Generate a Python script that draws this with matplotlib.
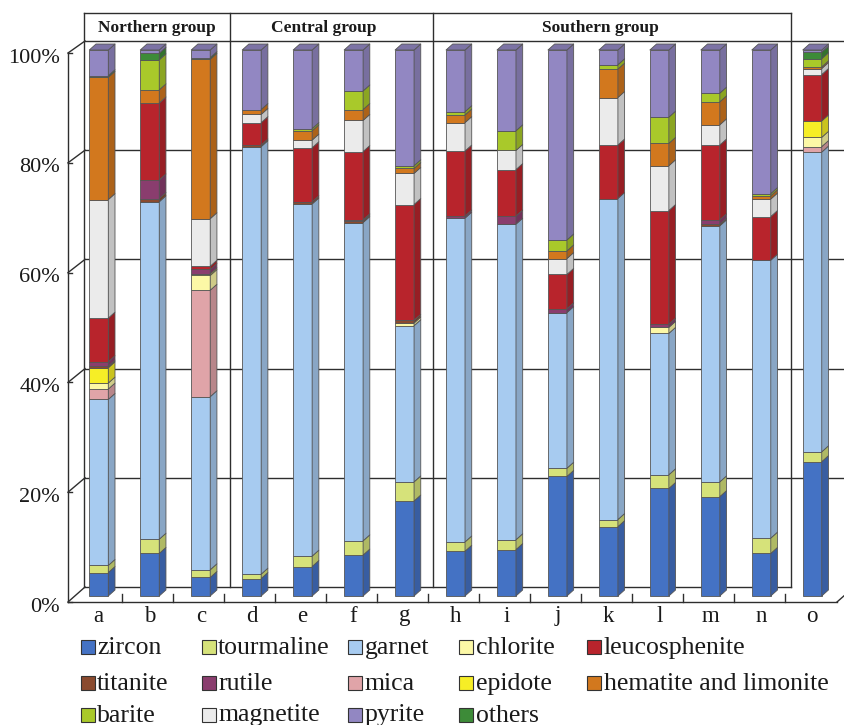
import numpy as np
import matplotlib
matplotlib.use('Agg')
import matplotlib.pyplot as plt
from matplotlib.collections import PolyCollection
from matplotlib.patches import Rectangle
from matplotlib.colors import to_rgb

plt.rcParams['font.family'] = ['Liberation Serif', 'DejaVu Serif']

# ---------------- data ----------------
categories = list('abcdefghijklmno')
groups = ['Northern group', 'Central group', 'Southern group']

zircon        = [4.3, 7.8, 3.4, 3.2, 5.4, 7.5, 17.4, 8.2, 8.5, 21.9, 12.7, 19.7, 18.2, 7.8, 24.6]
tourmaline    = [1.3, 2.6, 1.4, 0.8, 1.9, 2.6, 3.5, 1.7, 1.8, 1.5, 1.3, 2.5, 2.7, 2.8, 1.8]
garnet        = [30.4, 61.8, 31.7, 78.3, 64.5, 58.3, 28.6, 59.3, 57.8, 28.5, 58.8, 25.9, 46.9, 50.9, 54.9]
mica          = [1.9, 0, 19.5, 0, 0, 0, 0, 0, 0, 0, 0, 0, 0, 0, 1.0]
chlorite      = [1.1, 0, 2.7, 0, 0, 0, 0.5, 0, 0, 0, 0, 1.1, 0, 0, 1.7]
epidote       = [2.8, 0, 0.3, 0, 0, 0, 0, 0, 0, 0, 0, 0, 0, 0, 3.0]
titanite      = [0.3, 0.6, 0, 0.3, 0.4, 0.3, 0.5, 0, 0, 0, 0, 0, 0.3, 0, 0]
rutile        = [0.8, 3.4, 0.8, 0, 0, 0.2, 0, 0.4, 1.5, 0.7, 0, 0.6, 0.8, 0, 0]
leucosphenite = [8.0, 14.1, 0.6, 4.1, 9.9, 12.5, 21.2, 11.9, 8.5, 6.3, 9.8, 20.8, 13.7, 8.0, 8.5]
magnetite     = [21.7, 0, 8.7, 1.5, 1.4, 5.7, 5.7, 5.2, 3.5, 2.9, 8.7, 8.2, 3.7, 3.2, 1.1]
hematite      = [22.4, 2.4, 29.2, 0.9, 1.7, 2.0, 0.9, 1.4, 0, 1.4, 5.2, 4.1, 4.2, 0.6, 0.3]
barite        = [0, 5.5, 0, 0, 0.4, 3.4, 0.5, 0.6, 3.6, 2.0, 0.8, 4.8, 1.6, 0.4, 1.5]
others        = [0.3, 1.2, 0.3, 0, 0, 0, 0, 0, 0, 0, 0, 0, 0, 0, 1.2]
pyrite        = [4.7, 0.6, 1.4, 10.9, 14.4, 7.5, 21.2, 11.3, 14.8, 34.8, 2.7, 12.3, 7.9, 26.3, 0.4]

yticks = [0, 20, 40, 60, 80, 100]
ytick_labels = ['0%', '20%', '40%', '60%', '80%', '100%']

# stacking order (bottom -> top)
stack = [
    ('zircon', zircon, '#4472C4'),
    ('tourmaline', tourmaline, '#D6E27A'),
    ('garnet', garnet, '#A7CBF0'),
    ('mica', mica, '#E0A4A8'),
    ('chlorite', chlorite, '#FCF8A6'),
    ('epidote', epidote, '#F6EE26'),
    ('titanite', titanite, '#8A4A2E'),
    ('rutile', rutile, '#8A3D6E'),
    ('leucosphenite', leucosphenite, '#B8242C'),
    ('magnetite', magnetite, '#EBEBEB'),
    ('hematite and limonite', hematite, '#D2781E'),
    ('barite', barite, '#A9C92A'),
    ('others', others, '#3D8B38'),
    ('pyrite', pyrite, '#9287C2'),
]
legend_rows = [
    ['zircon', 'tourmaline', 'garnet', 'chlorite', 'leucosphenite'],
    ['titanite', 'rutile', 'mica', 'epidote', 'hematite and limonite'],
    ['barite', 'magnetite', 'pyrite', 'others'],
]

# ---------------- layout ----------------
W, H = 845, 725
fig = plt.figure(figsize=(W / 100, H / 100), dpi=100)
ax = fig.add_axes([0, 0, 1, 1])
X0, SX = 98.8, 50.96     # pixel of first bar centre, pixels per category
Y0, SY = 596.0, 5.46     # pixel of 0 %, pixels per percent
def X(px): return (px - X0) / SX
def Y(py): return (Y0 - py) / SY
ax.set_xlim(X(0), X(W))
ax.set_ylim(Y(H), Y(0))
ax.axis('off')

def darker(c, f):
    r, g, b = to_rgb(c)
    return (r * f, g * f, b * f)

x = np.arange(len(categories))
BW = 19 / SX
DX, DY = 6.7 / SX, 6.0 / SY          # bar depth
WDX, WDY = 17 / SX, 2.75             # wall/floor depth
BACK = 1.65                          # back wall offset in %
line_c = '#2e2e2e'

# back wall grid lines
for g in yticks:
    xe = X(791) if g == 0 else X(W)
    ax.plot([X(85), xe], [g + BACK, g + BACK], color=line_c, lw=1.0, zorder=1)
# group header box and dividers
top_h = Y(13)
ax.plot([X(84), X(791)], [top_h, top_h], color=line_c, lw=1.0, zorder=1)
for px in [84, 230, 433, 791]:
    ax.plot([X(px), X(px)], [BACK, top_h], color=line_c, lw=1.0, zorder=1)
for name, cx in zip(groups, [157, 324, 600]):
    ax.text(X(cx), Y(31.5), name, ha='center', va='baseline', fontsize=12.5,
            fontweight='bold', color='#1a1a1a')

# left wall: front axis + diagonal ticks
def front_p(g):
    return -1.1 + 1.0055 * g
ax.plot([X(68), X(68)], [front_p(0), front_p(100)], color=line_c, lw=1.0, zorder=1)
for g, lab in zip(yticks, ytick_labels):
    ax.plot([X(68), X(85)], [front_p(g), g + BACK], color=line_c, lw=1.0, zorder=1)
    ax.plot([X(68), X(72)], [front_p(g), front_p(g)], color=line_c, lw=1.0, zorder=1)
    ax.text(X(60), front_p(g) - 9.5 / SY, lab, ha='right', va='baseline',
            fontsize=16, color='#1a1a1a')

# floor front edge
ax.plot([X(68), X(837)], [front_p(0), front_p(0)], color=line_c, lw=1.0, zorder=4)
ax.plot([X(837), X(837) + WDX], [front_p(0), front_p(0) + WDY], color=line_c, lw=1.0, zorder=4)
for i in range(len(categories) - 1):
    xt = x[i] + 0.5 - 0.04
    ax.plot([xt, xt], [front_p(0), front_p(0) + 8 / SY], color=line_c, lw=1.0, zorder=4)
for xi, c in zip(x, categories):
    ax.text(xi, Y(621.5), c, ha='center', va='baseline', fontsize=16.5, color='#1a1a1a')

# ---------------- stacked 3-D bars ----------------
bottom = np.zeros(len(categories))
sides, side_cols = [], []
top_color = [None] * len(categories)
for name, vals, col in stack:
    v = np.asarray(vals, dtype=float)
    m = v > 0
    ax.bar(x[m], v[m], width=BW, bottom=bottom[m], color=col,
           edgecolor='#555555', linewidth=0.6, zorder=3)
    for i in np.where(m)[0]:
        xr = x[i] + BW / 2
        b0, b1 = bottom[i], bottom[i] + v[i]
        sides.append([(xr, b0), (xr + DX, b0 + DY), (xr + DX, b1 + DY), (xr, b1)])
        side_cols.append(darker(col, 0.82))
        top_color[i] = col
    bottom = bottom + v

tops, top_cols = [], []
for i in range(len(categories)):
    xl, xr, t = x[i] - BW / 2, x[i] + BW / 2, bottom[i]
    tops.append([(xl, t), (xl + DX, t + DY), (xr + DX, t + DY), (xr, t)])
    top_cols.append(darker(top_color[i], 0.85))
ax.add_collection(PolyCollection(sides, facecolors=side_cols, edgecolors='#555555',
                                 linewidths=0.6, zorder=3))
ax.add_collection(PolyCollection(tops, facecolors=top_cols, edgecolors='#555555',
                                 linewidths=0.6, zorder=3))

# ---------------- legend ----------------
colmap = {n: c for n, _, c in stack}
col_px = [80.7, 201.7, 348.3, 459.3, 587.3]
row_base = [654, 690, 721.5]
for r, row in enumerate(legend_rows):
    for c, name in enumerate(row):
        lx = col_px[c]
        ax.add_patch(Rectangle((X(lx), Y(row_base[r])), 14 / SX, 14 / SY,
                               facecolor=colmap[name], edgecolor='#333333',
                               linewidth=0.8, zorder=5))
        ax.text(X(lx + 16.5), Y(row_base[r]), name, ha='left', va='baseline',
                fontsize=18.5, color='#1a1a1a')

fig.savefig('out.png', dpi=100, facecolor='white')
